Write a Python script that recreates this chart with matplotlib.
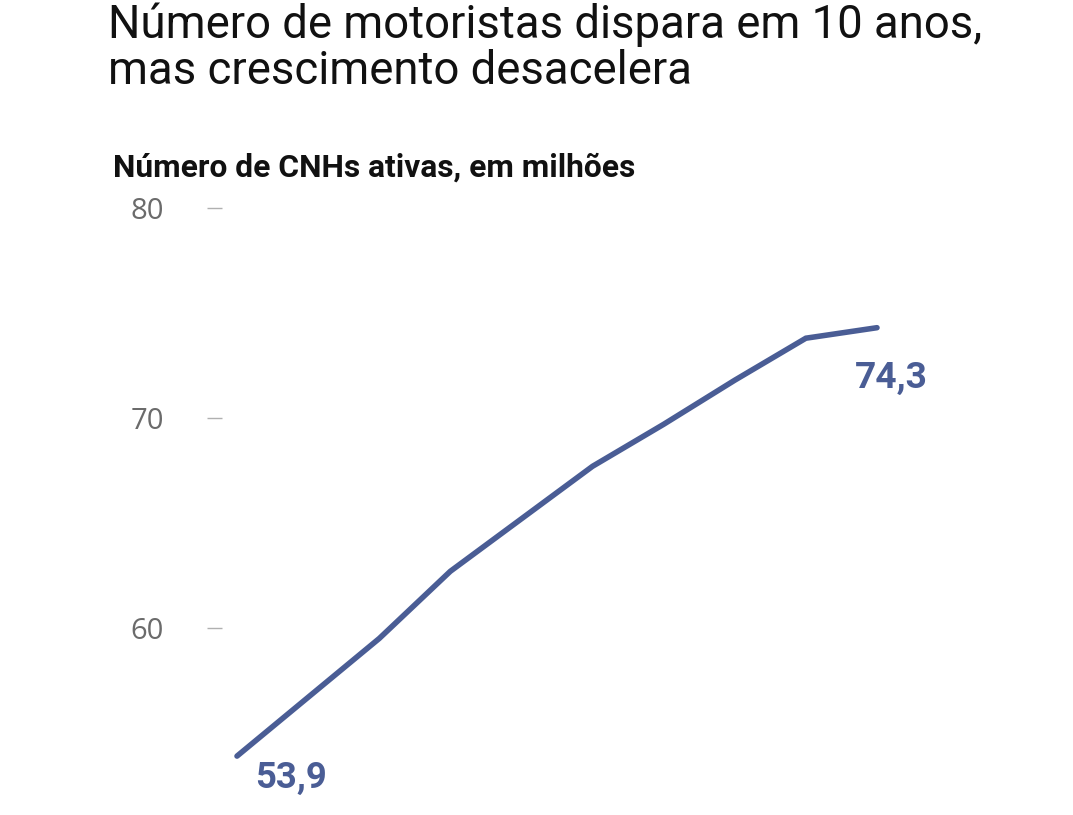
import matplotlib
matplotlib.use("Agg")
import matplotlib.pyplot as plt

years = [2009, 2010, 2011, 2012, 2013, 2014, 2015, 2016, 2017, 2018]
cnh_millions = [53.9, 56.7, 59.5, 62.7, 65.2, 67.7, 69.7, 71.8, 73.8, 74.3]
yticks = [60, 70, 80]
title_lines = ["Número de motoristas dispara em 10 anos,", "mas crescimento desacelera"]
subtitle = "Número de CNHs ativas, em milhões"

FONT = "Roboto"
W, H = 1073, 815
fig = plt.figure(figsize=(W / 100, H / 100), dpi=100)
fig.patch.set_facecolor("white")

LINE = "#4a5d95"

def fx(px):
    return px / W

def fy(py):
    return 1 - py / H

left_px, right_px = 222, 960
ymin, ymax = 52, 81
top_px = 208 - 21 * (ymax - 80)
bot_px = 208 + 21 * (80 - ymin)
ax = fig.add_axes([fx(left_px), fy(bot_px), fx(right_px - left_px), (bot_px - top_px) / H])
ax.set_ylim(ymin, ymax)
step = 71.11
x0 = 237
ax.set_xlim(years[0] + (left_px - x0) / step, years[0] + (right_px - x0) / step)

ax.plot(years, cnh_millions, color=LINE, lw=4.0, solid_capstyle="round", solid_joinstyle="miter")

for s in ax.spines.values():
    s.set_visible(False)
ax.set_xticks([])
ax.set_yticks(yticks)
ax.set_yticklabels([str(v) for v in yticks], family="Open Sans", fontsize=21, color="#6b6b6b")
ax.tick_params(axis="y", length=11, width=1, color="#b0b0b0", pad=31)

a1 = ax.annotate(f"{cnh_millions[0]:.1f}".replace(".", ","), (years[0], cnh_millions[0]),
                 xytext=(13, -2.5), textcoords="offset points", ha="left", va="top",
                 family=FONT, fontweight="bold", fontsize=27, color=LINE)
a2 = ax.annotate(f"{cnh_millions[-1]:.1f}".replace(".", ","), (years[-1], cnh_millions[-1]),
                 xytext=(10, -23), textcoords="offset points", ha="center", va="top",
                 family=FONT, fontweight="bold", fontsize=27, color=LINE)

t1 = fig.text(fx(108), fy(38), title_lines[0], family=FONT, fontsize=30, color="#111111", va="baseline")
t2 = fig.text(fx(108), fy(84), title_lines[1], family=FONT, fontsize=30, color="#111111", va="baseline")
t3 = fig.text(fx(113), fy(177), subtitle, family=FONT, fontweight="bold", fontsize=20, color="#111111", va="baseline")

# fit text sizes to the widths measured on the reference
fig.canvas.draw()
r = fig.canvas.get_renderer()
for t, target in [(t1, 874), (t3, 522), (a1, 72), (a2, 73)]:
    w = t.get_window_extent(r).width
    t.set_fontsize(t.get_fontsize() * target / w)
t2.set_fontsize(t1.get_fontsize())

fig.savefig("out.png", dpi=100, facecolor="white")
